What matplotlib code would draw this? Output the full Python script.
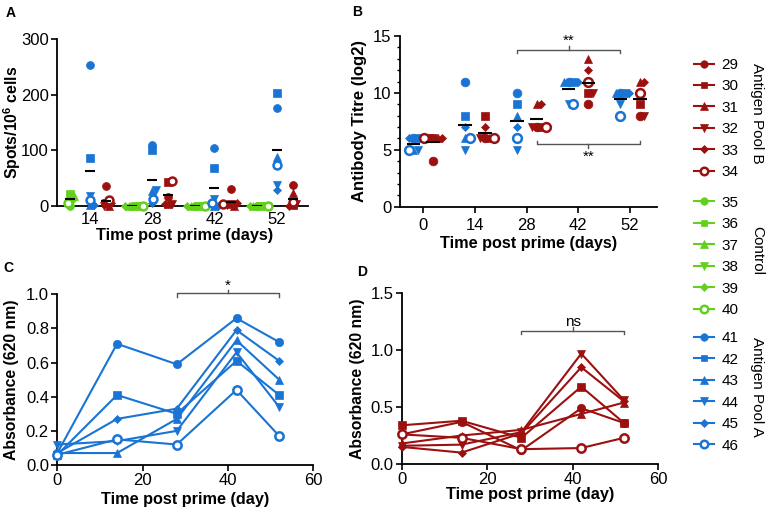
import numpy as np
import matplotlib
matplotlib.use("Agg")
import matplotlib.pyplot as plt
from matplotlib.lines import Line2D

plt.rcParams['font.family'] = ['Liberation Sans', 'DejaVu Sans']

# ---- data ----
mice_b = ['29', '30', '31', '32', '33', '34']      # Antigen Pool B
mice_ctrl = ['35', '36', '37', '38', '39', '40']   # Control
mice_a = ['41', '42', '43', '44', '45', '46']      # Antigen Pool A

# panel A: ELISpot spots / 10^6 cells (rows = mice, cols = days)
days_spots = ['14', '28', '42', '52']
spots_ctrl = [[0, 0, 0, 0],
              [22, 0, 0, 0],
              [18, 0, 0, 0],
              [15, 0, 0, 0],
              [10, 0, 0, 0],
              [5, 0, 0, 0]]
spots_a = [[254, 110, 104, 176],
           [87, 101, 69, 203],
           [2, 27, 0, 88],
           [18, 29, 12, 38],
           [2, 6, 0, 29],
           [11, 12, 5, 74]]
spots_b = [[36, 17, 30, 37],
           [5, 43, 3, 1],
           [0, 3, 0, 24],
           [0, 3, 2, 3],
           [5, 3, 5, 0],
           [10, 44, 3, 8]]

# panel B: antibody titre (log2)
days_titre = ['0', '14', '28', '42', '52']
titre_a = [[6, 11, 10, 11, 10],
           [6, 8, 9, 11, 10],
           [5, 6, 8, 11, 10],
           [5, 5, 5, 9, 9],
           [6, 7, 7, 11, 10],
           [5, 6, 6, 9, 8]]
titre_b = [[4, 6, 7, 9, 8],
           [6, 8, 7, 10, 9],
           [6, 6, 9, 13, 11],
           [6, 6, 7, 10, 8],
           [6, 7, 9, 12, 11],
           [6, 6, 7, 11, 10]]

# panels C, D: absorbance (620 nm)
days_abs = [0, 14, 28, 42, 52]
abs_a = [[0.07, 0.71, 0.59, 0.86, 0.72],
         [0.06, 0.41, 0.30, 0.61, 0.41],
         [0.07, 0.07, 0.27, 0.73, 0.50],
         [0.12, 0.14, 0.20, 0.66, 0.34],
         [0.07, 0.27, 0.33, 0.79, 0.61],
         [0.06, 0.15, 0.12, 0.44, 0.17]]
abs_b = [[0.26, 0.37, 0.12, 0.49, 0.36],
         [0.34, 0.38, 0.23, 0.68, 0.36],
         [0.18, 0.25, 0.30, 0.44, 0.54],
         [0.16, 0.17, 0.28, 0.97, 0.56],
         [0.15, 0.10, 0.27, 0.85, 0.55],
         [0.26, 0.23, 0.13, 0.14, 0.23]]

# ---- styles ----
BLUE = '#1a74d4'
RED = '#9c1010'
GREEN = '#62d11c'
markers = ['o', 's', '^', 'v', 'D', 'o']
msize = [6, 5.5, 6, 6, 4, 6]
hollow = [False, False, False, False, False, True]


def mstyle(i, color, scale=1.0):
    return dict(marker=markers[i], markersize=msize[i] * scale,
                markerfacecolor='white' if hollow[i] else color,
                markeredgecolor=color, markeredgewidth=1.8 if hollow[i] else 0.5)


def swarm(vals, px_y, px_x, tol=6.0, step=2.0):
    # simple beeswarm: returns x-offsets (category units)
    placed = []
    offs = []
    for v in vals:
        cands = [0.0] + [s * step * k for k in range(1, 12) for s in (1, -1)]
        for c in cands:
            ok = all(((c - pc) ** 2 + ((v - pv) * px_y) ** 2) >= tol ** 2 for pc, pv in placed)
            if ok:
                break
        placed.append((c, v))
        offs.append(c / px_x)
    return offs


def style_axes(ax):
    for s in ['top', 'right']:
        ax.spines[s].set_visible(False)
    for s in ['left', 'bottom']:
        ax.spines[s].set_linewidth(1.3)
    ax.tick_params(direction='out', width=1.2, length=4, labelsize=12, pad=2)
    ax.tick_params(which='minor', direction='out', width=1.0, length=2.5)


def bracket(ax, x0, x1, y, h, txt, ty, va):
    xm = (x0 + x1) / 2
    ax.plot([x0, x0, x1, x1], [y - h, y, y, y - h], color='#555555', lw=1.0, clip_on=False)
    ax.plot([xm, xm], [y, y + h], color='#555555', lw=1.0, clip_on=False)
    ax.text(xm, ty, txt, ha='center', va=va, fontsize=11)


fig = plt.figure(figsize=(7.67, 5.12), dpi=100)
LBL = dict(fontweight='bold')

# ---- panel A ----
axA = fig.add_axes([0.0743, 0.5977, 0.327, 0.326])
pxA_y = 167 / 300
pxA_x = 62
groupsA = [(spots_ctrl, GREEN, -0.32), (spots_a, BLUE, 0.0), (spots_b, RED, 0.26)]
for data, col, off in groupsA:
    arr = np.array(data, dtype=float)
    for j in range(arr.shape[1]):
        xo = swarm(arr[:, j], pxA_y, pxA_x, tol=3.5, step=1.2)
        for i in range(arr.shape[0]):
            axA.plot(j + off + xo[i], arr[i, j], linestyle='none', clip_on=False,
                     zorder=3, **mstyle(i, col, 0.95))
        axA.hlines(arr[:, j].mean(), j + off - 0.08, j + off + 0.08, color='black',
                   lw=1.5, zorder=4)
axA.set_xlim(-0.53, 3.5)
axA.set_ylim(0, 300)
axA.set_xticks(range(len(days_spots)))
axA.set_xticklabels(days_spots)
axA.set_yticks([0, 100, 200, 300])
axA.set_ylabel('Spots/10$^{\\mathregular{6}}$ cells', fontsize=11.3, **LBL)
axA.set_xlabel('Time post prime (days)', fontsize=11.7, **LBL)
axA.yaxis.set_label_coords(-0.135, 0.5)
axA.xaxis.set_label_coords(0.51, -0.132)
style_axes(axA)
axA.tick_params(axis='x', length=0, pad=4)

# ---- panel B ----
axB = fig.add_axes([0.5215, 0.5963, 0.3351, 0.3334])
pxB_y = 170.7 / 15
pxB_x = 51.7
groupsB = [(titre_a, BLUE, -0.19), (titre_b, RED, 0.19)]
for data, col, off in groupsB:
    arr = np.array(data, dtype=float)
    for j in range(arr.shape[1]):
        xo = swarm(arr[:, j], pxB_y, pxB_x, tol=4.5, step=1.5)
        for i in range(arr.shape[0]):
            axB.plot(j + off + xo[i], arr[i, j], linestyle='none', clip_on=False,
                     zorder=3, **mstyle(i, col, 1.05))
        axB.hlines(arr[:, j].mean(), j + off - 0.13, j + off + 0.13, color='black',
                   lw=1.5, zorder=4)
axB.set_xlim(-0.45, 4.52)
axB.set_ylim(0, 15)
axB.set_xticks(range(len(days_titre)))
axB.set_xticklabels(days_titre)
axB.set_yticks([0, 5, 10, 15])
axB.set_yticks(np.arange(0, 16, 1), minor=True)
axB.set_ylabel('Antibody Titre (log2)', fontsize=12, **LBL)
axB.set_xlabel('Time post prime (days)', fontsize=11.7, **LBL)
axB.yaxis.set_label_coords(-0.128, 0.5)
axB.xaxis.set_label_coords(0.5, -0.172)
style_axes(axB)
axB.tick_params(axis='x', pad=4)
bracket(axB, 2 - 0.19, 4 - 0.19, 13.8, 0.3, '**', 14.0, 'bottom')
bracket(axB, 2 + 0.19, 4 + 0.19, 5.5, -0.3, '**', 5.0, 'top')

# ---- panel C ----
axC = fig.add_axes([0.0747, 0.0918, 0.3338, 0.3334])
for i, row in enumerate(abs_a):
    axC.plot(days_abs, row, color=BLUE, lw=1.5, clip_on=False, zorder=3, **mstyle(i, BLUE))
axC.set_xlim(0, 60)
axC.set_ylim(0, 1.0)
axC.set_xticks([0, 20, 40, 60])
axC.set_yticks(np.arange(0, 1.01, 0.2))
axC.set_yticklabels(['0.0', '0.2', '0.4', '0.6', '0.8', '1.0'])
axC.set_ylabel('Absorbance (620 nm)', fontsize=11.3, **LBL)
axC.set_xlabel('Time post prime (day)', fontsize=11.7, **LBL)
axC.yaxis.set_label_coords(-0.148, 0.5)
axC.xaxis.set_label_coords(0.5, -0.158)
style_axes(axC)
bracket(axC, 28, 52, 1.005, 0.02, '*', 1.01, 'bottom')

# ---- panel D ----
axD = fig.add_axes([0.5237, 0.0938, 0.3345, 0.3333])
for i, row in enumerate(abs_b):
    axD.plot(days_abs, row, color=RED, lw=1.5, clip_on=False, zorder=3, **mstyle(i, RED))
axD.set_xlim(0, 60)
axD.set_ylim(0, 1.5)
axD.set_xticks([0, 20, 40, 60])
axD.set_yticks([0, 0.5, 1.0, 1.5])
axD.set_yticklabels(['0.0', '0.5', '1.0', '1.5'])
axD.set_ylabel('Absorbance (620 nm)', fontsize=11.3, **LBL)
axD.set_xlabel('Time post prime (day)', fontsize=11.7, **LBL)
axD.yaxis.set_label_coords(-0.143, 0.5)
axD.xaxis.set_label_coords(0.5, -0.135)
style_axes(axD)
bracket(axD, 28, 52, 1.17, 0.03, 'ns', 1.19, 'bottom')

# panel letters
for lab, x, y in [('A', 0.007, 0.988), ('B', 0.459, 0.99), ('C', 0.005, 0.49), ('D', 0.466, 0.482)]:
    fig.text(x, y, lab, fontsize=10, fontweight='bold', va='top')

# ---- legend ----
legend_groups = [(mice_b, RED, 'Antigen Pool B', 0.887),
                 (mice_ctrl, GREEN, 'Control', 0.618),
                 (mice_a, BLUE, 'Antigen Pool A', 0.353)]
for names, col, title, ytop in legend_groups:
    handles = [Line2D([], [], color=col, lw=1.5, **mstyle(i, col, 0.9)) for i in range(len(names))]
    fig.legend(handles, names, loc='upper left', bbox_to_anchor=(0.905, ytop),
               frameon=False, fontsize=11, handlelength=1.3, handletextpad=0.5,
               labelspacing=0.49, borderpad=0, borderaxespad=0)
    fig.text(0.987, ytop - 0.108, title, rotation=270, ha='center', va='center', fontsize=11)

fig.savefig('out.png', dpi=100)
